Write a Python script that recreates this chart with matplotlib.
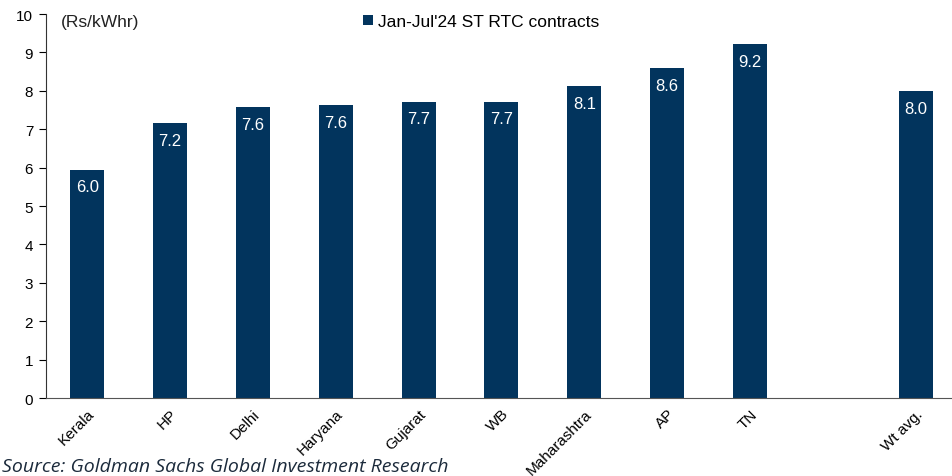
import numpy as np
import matplotlib.pyplot as plt

# ----------------------------------
# Data
# ----------------------------------

states = ['Kerala', 'HP', 'Delhi', 'Haryana', 'Gujarat', 'WB',
          'Maharashtra', 'AP', 'TN', 'Wt avg.']
prices = [5.95, 7.17, 7.57, 7.63, 7.72, 7.72, 8.12, 8.59, 9.22, 8.0]
labels = ['6.0', '7.2', '7.6', '7.6', '7.7', '7.7', '8.1', '8.6', '9.2', '8.0']
positions = [0, 1, 2, 3, 4, 5, 6, 7, 8, 10]  # gap before weighted average

series_name = "Jan-Jul'24 ST RTC contracts"
unit = '(Rs/kWhr)'
source = 'Source: Goldman Sachs Global Investment Research'

# ----------------------------------
# Plot
# ----------------------------------

BAR = '#02345d'
plt.rcParams['font.family'] = ['Liberation Sans', 'DejaVu Sans']

fig = plt.figure(figsize=(9.53, 4.77), dpi=100)
ax = fig.add_axes([0.048, 0.1635, 0.952, 0.805])

bars = ax.bar(positions, prices, width=0.41, color=BAR, label=series_name)

# value labels sit inside the bar, just under its top
for x, y, t in zip(positions, prices, labels):
    ax.annotate(t, (x, y), xytext=(0, -12.5), textcoords='offset points',
                ha='center', va='center', color='white', fontsize=12)

ax.set_ylim(0, 10)
ax.set_xlim(-0.5, 10.45)
ax.set_yticks(range(0, 11))
ax.set_xticks(positions)
ax.set_xticklabels(states, rotation=45, ha='right', rotation_mode='anchor',
                   fontsize=11)
ax.tick_params(axis='x', length=0, pad=6)
ax.tick_params(axis='y', direction='out', length=5, labelsize=11, pad=4)

for side in ['top', 'right']:
    ax.spines[side].set_visible(False)
ax.spines['left'].set_color('#333333')
ax.spines['bottom'].set_color('#555555')

ax.text(0.017, 0.98, unit, transform=ax.transAxes, fontsize=12.5,
        va='center', ha='left', color='#222222')

ax.legend(loc='center', bbox_to_anchor=(0.48, 0.98), frameon=False,
          fontsize=12.5, handlelength=0.55, handleheight=0.55, handletextpad=0.3,
          borderpad=0)

fig.text(0.002, 0.022, source, fontsize=14, style='italic',
         family='Open Sans', color='#1c2b3c', ha='left', va='center')

fig.savefig('out.png', dpi=100)
